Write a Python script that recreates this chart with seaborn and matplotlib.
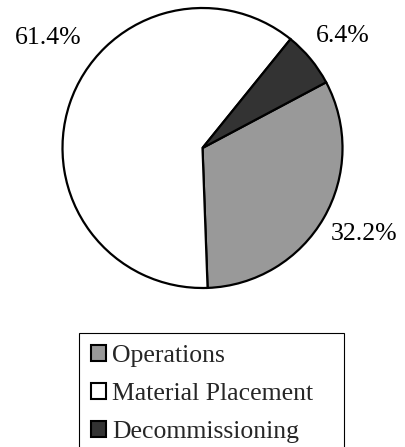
import matplotlib
matplotlib.use("Agg")
import matplotlib.pyplot as plt
import seaborn as sns
import numpy as np

# data
categories = ["Operations", "Material Placement", "Decommissioning"]
shares = [32.2, 61.4, 6.4]
pct_labels = ["32.2%", "61.4%", "6.4%"]
colors = ["#999999", "#ffffff", "#333333"]

sns.set_theme(style="white")
plt.rcParams['font.family'] = ['Liberation Serif', 'DejaVu Serif']

fig = plt.figure(figsize=(4.06, 4.47), dpi=100)
W, H = 406, 447
# pie bounding box in pixels: center (202.5, 148), radius 140
ax = fig.add_axes([62.5 / W, (H - 288) / H, 280 / W, 280 / H])

wedges, _ = ax.pie(shares, colors=colors, startangle=28, counterclock=False,
                   wedgeprops={'edgecolor': 'black', 'linewidth': 1.6, 'clip_on': False})
ax.set_xlim(-1, 1)
ax.set_ylim(-1, 1)
ax.set_aspect('equal')
ax.axis('off')

# percentage labels outside the slices (Excel "best fit" style)
label_dist = [1.31, 1.35, 1.28]
label_shift = [2, -17, -1]  # degrees away from the slice middle
for w, txt, d, s in zip(wedges, pct_labels, label_dist, label_shift):
    ang = np.deg2rad((w.theta1 + w.theta2) / 2 + s)
    ax.text(d * np.cos(ang), d * np.sin(ang), txt, ha='center', va='center',
            fontsize=18.5, color='black', clip_on=False)

# legend box runs off the bottom edge, as in the reference
leg = fig.legend(wedges, categories, loc='upper left',
                 bbox_to_anchor=(79 / W, 0, 265 / W, 1 - 333 / H),
                 mode='expand', frameon=True, fancybox=False, framealpha=1,
                 fontsize=18.5, handlelength=0.6, handleheight=0.6,
                 handletextpad=0.25, labelspacing=0.62, borderpad=0.45,
                 borderaxespad=0)
leg.get_frame().set_edgecolor('black')
leg.get_frame().set_linewidth(0.8)
for h in leg.legend_handles:
    h.set_linewidth(1.5)

fig.savefig("out.png", dpi=100)
